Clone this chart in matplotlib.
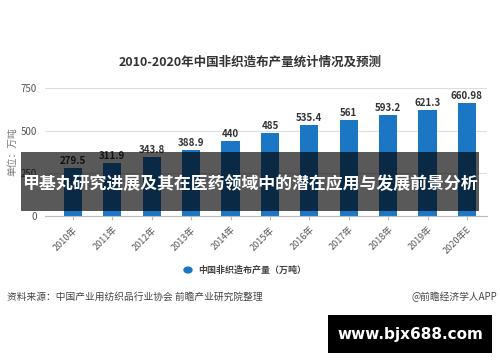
import matplotlib
matplotlib.use("Agg")
import matplotlib.pyplot as plt
from matplotlib.patches import Rectangle, Circle

plt.rcParams['font.family'] = ['Noto Sans CJK SC', 'DejaVu Sans']

years = ["2010年", "2011年", "2012年", "2013年", "2014年", "2015年",
         "2016年", "2017年", "2018年", "2019年", "2020年E"]
output = [279.5, 311.9, 343.8, 388.9, 440, 485, 535.4, 561, 593.2, 621.3, 660.98]
labels = ["279.5", "311.9", "343.8", "388.9", "440", "485",
          "535.4", "561", "593.2", "621.3", "660.98"]
yticks = [0, 250, 500, 750]

BLUE = "#1b77c3"

fig = plt.figure(figsize=(5, 3.62), dpi=100)
fig.patch.set_facecolor("white")

ax = fig.add_axes([0.09, 0.403, 0.884, 0.354])
x = list(range(len(years)))
ax.bar(x, output, width=0.46, color=BLUE, zorder=2)
for xi, v, lab in zip(x, output, labels):
    ax.text(xi, v + 12, lab, ha="center", va="bottom", fontsize=7,
            fontweight="bold", color="#333333")

ax.set_xlim(-0.71, 10.51)
ax.set_ylim(0, 750)
ax.set_yticks(yticks)
ax.set_yticklabels([str(t) for t in yticks], fontsize=7, color="#555555")
ax.set_xticks(x)
ax.set_xticklabels(years, rotation=45, ha="right", rotation_mode="anchor",
                   fontsize=6.5, color="#555555")
ax.grid(axis="y", color="#dddddd", linewidth=0.8, zorder=0)
for s in ["top", "right", "left"]:
    ax.spines[s].set_visible(False)
ax.spines["bottom"].set_color("#bbbbbb")
ax.tick_params(axis="y", length=0, pad=6)
ax.tick_params(axis="x", length=3, color="#bbbbbb")
ax.set_ylabel("单位：万吨", fontsize=7, color="#777777", labelpad=2)

fig.text(0.5, 1 - 62 / 362, "2010-2020年中国非织造布产量统计情况及预测",
         ha="center", va="center", fontsize=9, fontweight="bold", color="#333333")

# legend
fig.patches.append(Circle((188 / 500, 1 - 270 / 362), 0.008, transform=fig.transFigure,
                          color=BLUE, figure=fig))
fig.text(198 / 500, 1 - 270 / 362, "中国非织造布产量（万吨）", ha="left", va="center",
         fontsize=6.5, fontweight="bold", color="#444444")

fig.text(7 / 500, 1 - 297 / 362, "资料来源：中国产业用纺织品行业协会 前瞻产业研究院整理",
         ha="left", va="center", fontsize=7, color="#444444")
fig.text(497 / 500, 1 - 297 / 362, "@前瞻经济学人APP",
         ha="right", va="center", fontsize=7, color="#444444")

# dark banner overlay
fig.patches.append(Rectangle((21 / 500, 1 - 211 / 362), 458 / 500, 59 / 362,
                             transform=fig.transFigure, facecolor="black",
                             alpha=0.65, zorder=5, figure=fig))
fig.text(0.5, 1 - 184 / 362, "甲基丸研究进展及其在医药领域中的潜在应用与发展前景分析",
         ha="center", va="center", fontsize=12.2, fontweight="bold", color="white",
         zorder=6)

# site box
fig.patches.append(Rectangle((328 / 500, 1 - 353 / 362), 164 / 500, 38 / 362,
                             transform=fig.transFigure, facecolor="black",
                             zorder=5, figure=fig))
fig.text(410 / 500, 1 - 334 / 362, "www.bjx688.com", ha="center", va="center",
         fontsize=11, fontweight="bold", color="white", zorder=6,
         family=["DejaVu Sans"])

fig.savefig("out.png", dpi=100, facecolor="white")
